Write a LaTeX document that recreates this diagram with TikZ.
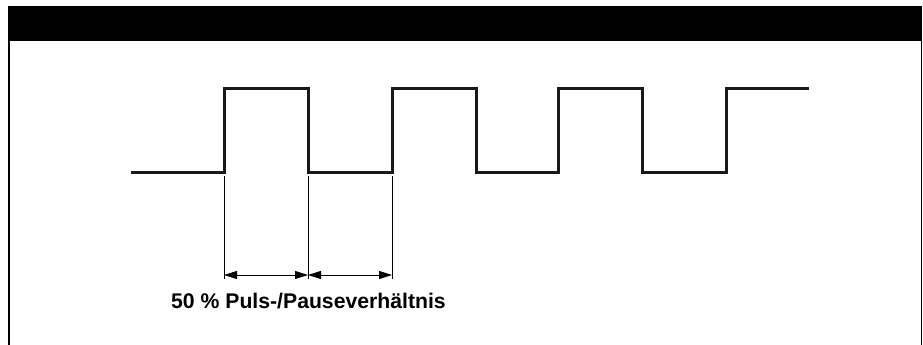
\documentclass[tikz,border=0pt]{standalone}
\usepackage{fontspec}
\setmainfont{Liberation Sans}
\usetikzlibrary{arrows.meta}
\begin{document}
\begin{tikzpicture}[x=1pt,y=-1pt,
  wave/.style={line width=3pt, line join=miter, color=black!90},
  dimline/.style={line width=0.9pt},
  dimarrow/.style={line width=1pt,{Triangle[length=13pt,width=8pt]}-{Triangle[length=13pt,width=8pt]}},
  lbl/.style={font=\bfseries\fontsize{21.2}{24}\selectfont, anchor=base west, inner sep=0pt}]
\useasboundingbox (0,0) rectangle (923,345);
% frame and header bar
\fill (8,6) rectangle (922.3,40.7);
\draw[line width=2pt] (9,40) -- (9,345);
\draw[line width=1.6pt] (921.5,40) -- (921.5,345);
% waveform
\draw[wave] (131,172) -- (224,172) -- (224,88) -- (308,88) -- (308,172) -- (392,172) -- (392,88) -- (476,88) -- (476,172) -- (558,172) -- (558,88) -- (642,88) -- (642,172) -- (726,172) -- (726,88) -- (809,88);
% dimension lines
\coordinate (t1) at (224,176);
\coordinate (t2) at (308,176);
\coordinate (t3) at (392,176);
\coordinate (b1) at (224,279);
\coordinate (b2) at (308,279);
\coordinate (b3) at (392,279);
\coordinate (a1) at (224,275);
\coordinate (a2) at (308,275);
\coordinate (a3) at (392,275);
\draw[dimline] (t1) -- (b1);
\draw[dimline] (t2) -- (b2);
\draw[dimline] (t3) -- (b3);
\draw[dimarrow] (a1) -- (a2);
\draw[dimarrow] (a2) -- (a3);
\node[lbl] (label) at (171,308) {50 \% Puls-/Pauseverhältnis};
\end{tikzpicture}
\end{document}
